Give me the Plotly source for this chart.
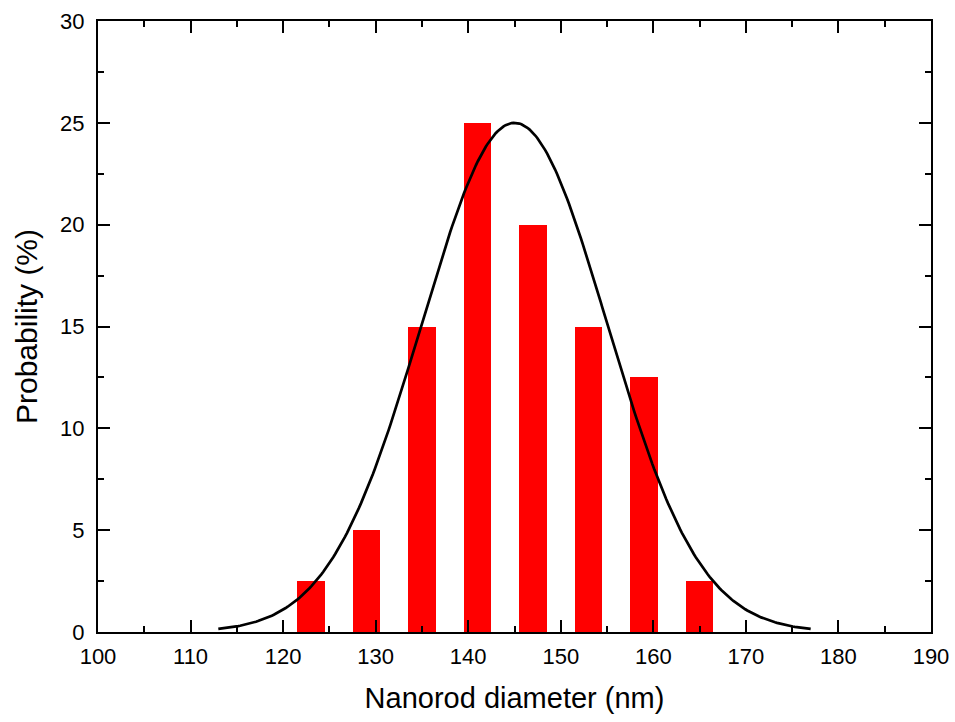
import numpy as np
import plotly.graph_objects as go

# Histogram data
bin_centers = [123, 129, 135, 141, 147, 153, 159, 165]
probability = [2.5, 5, 15, 25, 20, 15, 12.5, 2.5]
bar_width = 3

# Gaussian fit parameters
fit_center = 145.0
fit_sigma = 10.0
fit_amplitude = 25.0
fit_start = 113.0
fit_end = 177.0

x_ticks = [100, 110, 120, 130, 140, 150, 160, 170, 180, 190]
y_ticks = [0, 5, 10, 15, 20, 25, 30]

fit_x = np.linspace(fit_start, fit_end, 300)
fit_y = fit_amplitude * np.exp(-((fit_x - fit_center) ** 2) / (2 * fit_sigma ** 2))

fig = go.Figure()
fig.add_trace(go.Bar(x=bin_centers, y=probability, width=bar_width,
                     marker=dict(color="#ff0000", line=dict(width=0)),
                     showlegend=False))
fig.add_trace(go.Scatter(x=fit_x, y=fit_y, mode="lines",
                         line=dict(color="black", width=2.7),
                         showlegend=False))

font_family = "Liberation Sans, Arial, sans-serif"
axis_common = dict(
    showline=True, linecolor="black", linewidth=2, mirror="ticks",
    ticks="inside", ticklen=12, tickwidth=2, tickcolor="black",
    showgrid=False, zeroline=False, automargin=False,
    tickfont=dict(family=font_family, size=22, color="black"),
)

fig.update_xaxes(range=[100, 190], tickvals=x_ticks, ticklabelstandoff=4,
                 minor=dict(dtick=5, tick0=100, ticks="inside", ticklen=6, tickwidth=2, tickcolor="black"),
                 title=dict(text="Nanorod diameter (nm)", font=dict(family=font_family, size=29, color="black"), standoff=19),
                 **axis_common)
fig.update_yaxes(range=[0, 30], tickvals=y_ticks, ticklabelstandoff=7,
                 minor=dict(dtick=2.5, tick0=0, ticks="inside", ticklen=6, tickwidth=2, tickcolor="black"),
                 title=dict(text="Probability (%)", font=dict(family=font_family, size=30, color="black"), standoff=14),
                 **axis_common)

fig.update_layout(width=955, height=722, margin=dict(l=98, r=24, t=21, b=90),
                  plot_bgcolor="white", paper_bgcolor="white", bargap=0)

fig.write_html("out.html", config={"displayModeBar": False},
               post_script="document.body.style.margin='0';")
